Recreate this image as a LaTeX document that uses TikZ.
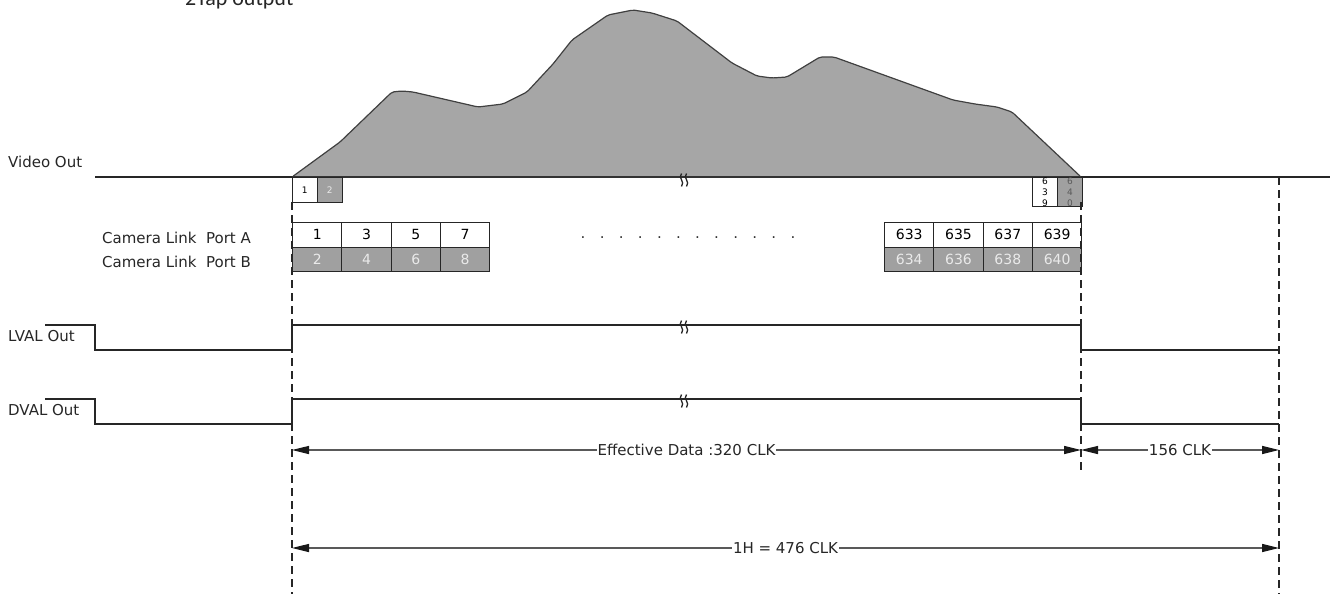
\documentclass[tikz,border=0pt]{standalone}
\usepackage{fontspec}
\setmainfont{DejaVu Sans}
\newfontfamily\tapfont{Carlito}
\usetikzlibrary{arrows.meta}
\definecolor{mgray}{HTML}{A6A6A6}
\definecolor{cgray}{HTML}{A0A0A0}
\definecolor{ltxt}{HTML}{EAEAEA}
\begin{document}
\begin{tikzpicture}[x=1pt,y=-1pt,
  lbl/.style={font=\fontsize{15}{18}\selectfont, text=black!85, inner sep=0pt},
  sig/.style={draw=black!85, line width=1.4pt},
  vdash/.style={draw=black!85, line width=1.3pt, dash pattern=on 8pt off 5pt},
  tipA/.tip={Triangle[length=17pt,width=8pt,fill=black!90,color=black!90]},
  dim/.style={draw=black!65, line width=1.3pt, tipA-tipA},
  dimtxt/.style={font=\fontsize{15}{18}\selectfont, text=black!85, fill=white, inner sep=1pt},
  cellA/.style={draw=black!85, line width=1.1pt, fill=white, minimum width=49.3pt, minimum height=24.5pt, inner sep=0pt, anchor=north west, font=\fontsize{14}{16}\selectfont},
  cellB/.style={cellA, fill=cgray, text=ltxt},
  sboxA/.style={draw=black!85, line width=1.1pt, fill=white, minimum width=24.6pt, minimum height=24.6pt, inner sep=0pt, anchor=north west, font=\fontsize{9}{11}\selectfont, align=center},
  sboxB/.style={sboxA, fill=cgray, text=ltxt},
  brk/.pic={
    \draw[line width=1.3pt, black!85] (-2.5,-6.5) .. controls (-6.5,-2) and (1.5,1.5) .. (-2.5,6.5);
    \draw[line width=1.3pt, black!85] (2.5,-6.5) .. controls (-1.5,-2) and (6.5,1.5) .. (2.5,6.5);
  }]
\useasboundingbox (0,0) rectangle (1335,594);

% title (cut at top, as in the reference)
\node[font=\tapfont\fontsize{22}{24}\selectfont, anchor=base west, inner sep=0pt, text=black!85] (title) at (185,6) {2Tap output};

% Video out
\node[lbl, anchor=west] (vlab) at (8,162) {Video Out};
\filldraw[fill=mgray, draw=black!75, line width=1.2pt, rounded corners=2pt]
  (292,177) -- (340,142) -- (392,92) -- (402,91) -- (413,92) -- (478,107) -- (503,104) -- (527,92)
  -- (553,64) -- (572,40) -- (608,15) -- (633,10) -- (652,13) -- (677,21) -- (732,63) -- (757,76)
  -- (772,78) -- (787,77) -- (820,57) -- (834,57) -- (953,100) -- (975,104) -- (997,107)
  -- (1012,112) -- (1081,177) -- cycle;
\coordinate (v0) at (95,177);
\coordinate (v1) at (292,177);
\coordinate (v2) at (1081,177);
\coordinate (v3) at (1330,177);
\draw[sig, line width=1.1pt] (v0) -- (v1);
\draw[sig, line width=2pt, draw=black!80] (v1) -- (v2);
\draw[sig, line width=1.1pt] (v2) -- (v3);
\pic at (684,180) {brk};

% small pixel boxes
\node[sboxA] (p1) at (292,177) {1};
\node[sboxB] (p2) at (317,177) {2};
\node[sboxA] (p639) at (1032,177) {6\\3\\9};
\node[sboxB, text=black!65] (p640) at (1057,177) {6\\4\\0};

% Camera Link table
\node[lbl, anchor=west] (la) at (102,238) {Camera Link\ \ Port A};
\node[lbl, anchor=west] (lb) at (102,262) {Camera Link\ \ Port B};
\foreach \i/\a/\b in {0/1/2,1/3/4,2/5/6,3/7/8}{
  \node[cellA] (ca\a) at (292+49.3*\i,222) {\a};
  \node[cellB] (cb\b) at (292+49.3*\i,246.5) {\b};
}
\foreach \i/\a/\b in {0/633/634,1/635/636,2/637/638,3/639/640}{
  \node[cellA] (ca\a) at (884+49.3*\i,222) {\a};
  \node[cellB] (cb\b) at (884+49.3*\i,246.5) {\b};
}
\node[font=\fontsize{15}{18}\selectfont, text=black!80, inner sep=0pt] (dots) at (688,238) {.\ \ \ .\ \ \ .\ \ \ .\ \ \ .\ \ \ .\ \ \ .\ \ \ .\ \ \ .\ \ \ .\ \ \ .\ \ \ .};

% LVAL
\node[lbl, anchor=west] (llab) at (8,336) {LVAL Out};
\coordinate (l0) at (45,325);
\coordinate (l1) at (95,325);
\coordinate (l2) at (95,350);
\coordinate (l3) at (292,350);
\coordinate (l4) at (292,325);
\coordinate (l5) at (1081,325);
\coordinate (l6) at (1081,350);
\coordinate (l7) at (1279,350);
\draw[sig] (l0) -- (l1) -- (l2) -- (l3) -- (l4) -- (l5) -- (l6) -- (l7);
\pic at (684,327) {brk};

% DVAL
\node[lbl, anchor=west] (dlab) at (8,410) {DVAL Out};
\coordinate (d0) at (45,399);
\coordinate (d1) at (95,399);
\coordinate (d2) at (95,424);
\coordinate (d3) at (292,424);
\coordinate (d4) at (292,399);
\coordinate (d5) at (1081,399);
\coordinate (d6) at (1081,424);
\coordinate (d7) at (1279,424);
\draw[sig] (d0) -- (d1) -- (d2) -- (d3) -- (d4) -- (d5) -- (d6) -- (d7);
\pic at (684,401) {brk};

% dashed verticals
\coordinate (a0) at (292,202);
\coordinate (a1) at (292,594);
\coordinate (b0) at (1081,202);
\coordinate (b1) at (1081,470);
\coordinate (c0) at (1279,177);
\coordinate (c1) at (1279,594);
\draw[vdash] (a0) -- (a1);
\draw[vdash] (b0) -- (b1);
\draw[vdash] (c0) -- (c1);

% dimensions
\coordinate (e0) at (292,450);
\coordinate (e1) at (1081,450);
\coordinate (e2) at (1279,450);
\coordinate (h0) at (292,548);
\coordinate (h1) at (1279,548);
\draw[dim] (e0) -- node[dimtxt] (eff) {Effective Data :320 CLK} (e1);
\draw[dim] (e1) -- node[dimtxt] (blk) {156 CLK} (e2);
\draw[dim] (h0) -- node[dimtxt] (oneh) {1H = 476 CLK} (h1);
\end{tikzpicture}
\end{document}
